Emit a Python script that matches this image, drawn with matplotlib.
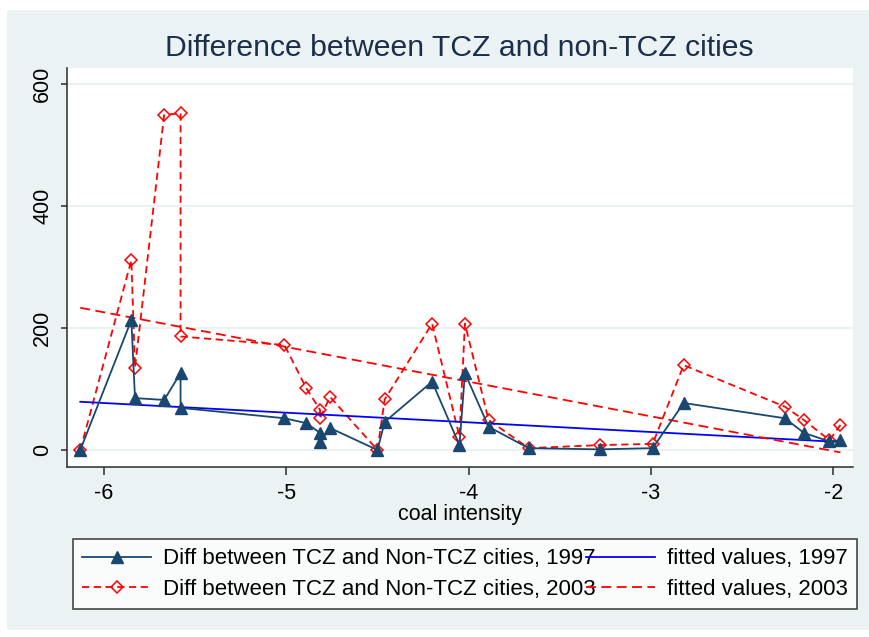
import numpy as np
import matplotlib
matplotlib.use("Agg")
import matplotlib.pyplot as plt
from matplotlib.patches import Rectangle

plt.rcParams["font.family"] = ["Liberation Sans", "DejaVu Sans"]

# coal intensity (sorted, as Stata connects points in x order)
coal_intensity = [-6.13, -5.85, -5.83, -5.67, -5.58, -5.58, -5.01, -4.89, -4.815, -4.815,
                  -4.76, -4.50, -4.46, -4.20, -4.05, -4.02, -3.89, -3.67, -3.28, -2.99,
                  -2.82, -2.265, -2.16, -2.02, -1.96]
diff_1997 = [0, 213, 85, 82, 126, 69, 52, 44, 28, 13,
             36, 0, 46, 112, 8, 126, 38, 3, 1, 3,
             77, 52, 28, 14, 16]
diff_2003 = [0, 311, 135, 549, 552, 186, 172, 101, 66, 52,
             87, 0, 83, 207, 22, 207, 49, 3, 8, 10,
             139, 71, 49, 16, 41]

fit_x = [-6.13, -1.96]
fit_1997 = [79, 13]
fit_2003 = [233, -4]

x_ticks = [-6, -5, -4, -3, -2]
y_ticks = [0, 200, 400, 600]

BG = "#EAF2F3"
NAVY = "#1a476f"

fig = plt.figure(figsize=(8.7, 6.37), dpi=100, facecolor="white")
fig.patches.append(Rectangle((7 / 870, 7 / 637), 863 / 870, 620 / 637,
                             transform=fig.transFigure, facecolor=BG,
                             edgecolor="none", zorder=-10))

ax = fig.add_axes([67 / 870, 1 - 467 / 637, (853 - 67) / 870, (467 - 68) / 637])
ax.set_facecolor("white")

l97, = ax.plot(coal_intensity, diff_1997, color=NAVY, lw=1.3, marker="^",
               markersize=8, markerfacecolor=NAVY, markeredgecolor=NAVY,
               label="Diff between TCZ and Non-TCZ cities, 1997", zorder=4)
l03, = ax.plot(coal_intensity, diff_2003, color="red", lw=1.3, marker="D",
               markersize=6.5, markerfacecolor="none", markeredgecolor="red",
               markeredgewidth=1.1, dashes=(4, 2.5),
               label="Diff between TCZ and Non-TCZ cities, 2003", zorder=3)
f97, = ax.plot(fit_x, fit_1997, color="blue", lw=1.3,
               label="fitted values, 1997", zorder=3)
f03, = ax.plot(fit_x, fit_2003, color="red", lw=1.3, dashes=(5.5, 3),
               label="fitted values, 2003", zorder=3)

ax.set_xlim(-6.203, -1.891)
ax.set_ylim(-27.9, 626)
ax.set_xticks(x_ticks)
ax.set_xticklabels([str(v) for v in x_ticks])
ax.set_yticks(y_ticks)
ax.set_yticklabels([str(v) for v in y_ticks], rotation=90, va="center")
ax.grid(axis="y", color=BG, lw=1.5, zorder=0)
ax.set_axisbelow(True)

for side in ["top", "right"]:
    ax.spines[side].set_visible(False)
for side in ["left", "bottom"]:
    ax.spines[side].set_color("#2b2b2b")
    ax.spines[side].set_linewidth(1.1)

ax.tick_params(axis="x", length=5.5, width=1.1, color="#2b2b2b",
               labelsize=15.5, pad=6)
ax.tick_params(axis="y", length=4, width=1.1, color="#2b2b2b",
               labelsize=15.5, pad=6)
ax.set_xlabel("coal intensity", fontsize=15.5, labelpad=0)

fig.text(459 / 870, 1 - 48 / 637, "Difference between TCZ and non-TCZ cities",
         ha="center", va="center", fontsize=21.7, color="#1c2e4a")

leg = fig.legend(handles=[l97, l03, f97, f03], ncol=2,
                 loc="upper left", bbox_to_anchor=(73 / 870, 1 - 539 / 637),
                 fontsize=16, frameon=True, fancybox=False, numpoints=1,
                 handlelength=3.1, handletextpad=0.55, columnspacing=-0.45,
                 labelspacing=0.42, borderpad=0.42, borderaxespad=0)
leg.get_frame().set_edgecolor("#1a1a1a")
leg.get_frame().set_linewidth(1.2)
leg.get_frame().set_facecolor("white")

fig.savefig("out.png", dpi=100, facecolor=fig.get_facecolor())
